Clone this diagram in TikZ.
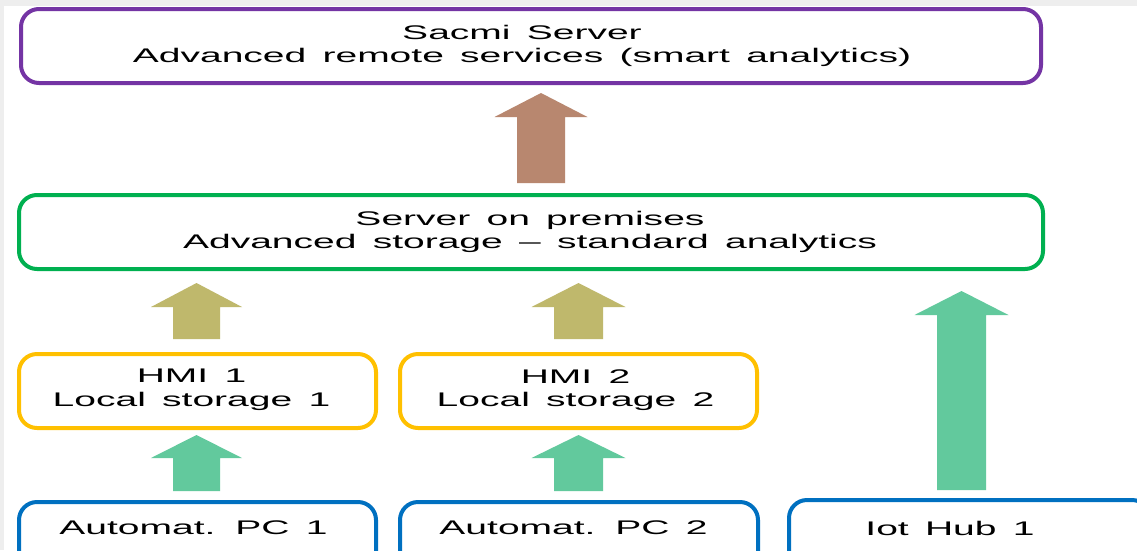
\documentclass[tikz,border=0pt]{standalone}
\usepackage{fontspec}
\setmainfont{Liberation Sans}[FakeStretch=1.98,WordSpace=1.5]
\definecolor{cpurple}{HTML}{7434A4}
\definecolor{cgreen}{HTML}{00B050}
\definecolor{cyellow}{HTML}{FFC000}
\definecolor{cblue}{HTML}{0070C0}
\definecolor{abrown}{HTML}{B8876F}
\definecolor{aolive}{HTML}{BFB86C}
\definecolor{agreen}{HTML}{62C99D}
\definecolor{cmargin}{HTML}{EEEEEE}
\newcommand\blockarr[7]{% colour, cx, bottom, head base, tip, shaft half, head half
  \fill[#1] (#2-#6,#3) -- (#2-#6,#4) -- (#2-#7,#4) -- (#2,#5) -- (#2+#7,#4) -- (#2+#6,#4) -- (#2+#6,#3) -- cycle;}
\begin{document}
\begin{tikzpicture}[x=1pt,y=-1pt,
  txt/.style={font=\fontsize{19.7}{23.5}\selectfont, align=center, inner sep=0pt},
  box/.style={draw, line width=4pt, rounded corners=18pt, fill=white, inner sep=0pt},
  purplebox/.style={box, draw=cpurple},
  greenbox/.style={box, draw=cgreen},
  yellowbox/.style={box, draw=cyellow},
  bluebox/.style={box, draw=cblue}]
\useasboundingbox (0,0) rectangle (1137,550);
\clip (0,0) rectangle (1137,550);
\fill[cmargin] (0,0) rectangle (1137,550);
\fill[white] (4,6) rectangle (1137,550);
% boxes
\node[purplebox, minimum width=1020pt, minimum height=74pt] (sacmi) at (531,46) {};
\node[greenbox, minimum width=1024pt, minimum height=74pt] (prem) at (531,232) {};
\node[yellowbox, minimum width=357pt, minimum height=74pt] (hmi1) at (197.5,391) {};
\node[yellowbox, minimum width=357pt, minimum height=74pt] (hmi2) at (578.5,391) {};
\node[bluebox, minimum width=357pt, minimum height=78pt] (pc1) at (197.5,541) {};
\node[bluebox, minimum width=358pt, minimum height=78pt] (pc2) at (579,541) {};
\node[bluebox, minimum width=361pt, minimum height=78pt] (hub) at (969.5,539) {};
% texts
\node[txt] (sacmit) at (522,46) {Sacmi Server\\Advanced remote services (smart analytics)};
\node[txt] (premt) at (530,232) {Server on premises\\Advanced storage – standard analytics};
\node[txt] (hmi1t) at (191.5,390) {HMI 1\\Local storage 1};
\node[txt] (hmi2t) at (575.5,390) {HMI 2\\Local storage 2};
\node[txt] (pc1t) at (193.5,528) {Automat. PC 1};
\node[txt] (pc2t) at (573.5,528) {Automat. PC 2};
\node[txt] (hubt) at (950,528) {Iot Hub 1};
% block arrows
\blockarr{abrown}{541}{183}{117}{93}{24}{46.5}
\blockarr{aolive}{196.5}{339}{307}{283}{23.5}{45.5}
\blockarr{aolive}{578.5}{339}{307}{283}{24.5}{47}
\blockarr{agreen}{196.5}{491}{458}{435}{23.5}{45.5}
\blockarr{agreen}{578.5}{491}{458}{435}{24.5}{47}
\blockarr{agreen}{961.5}{490}{315}{291}{24.5}{47}
\end{tikzpicture}
\end{document}
